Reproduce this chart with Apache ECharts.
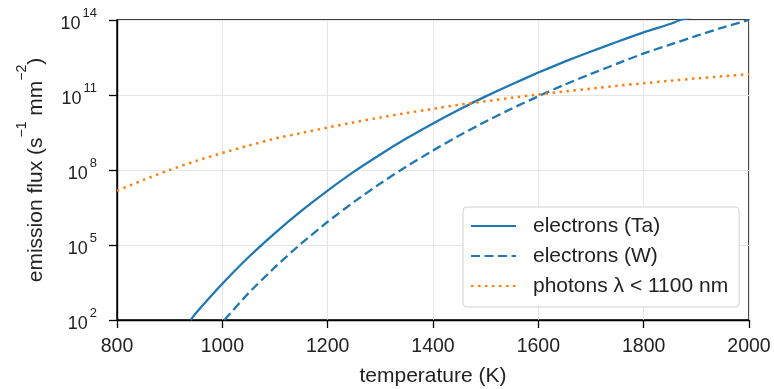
<!DOCTYPE html>
<html>
<head>
<meta charset="utf-8">
<script src="https://cdn.jsdelivr.net/npm/echarts@6/dist/echarts.min.js"></script>
<style>
html,body{margin:0;padding:0;background:#fff;}
#chart{width:774px;height:389px;}
</style>
</head>
<body>
<div id="chart"></div>
<script>
// temperature (K) and emission flux (s^-1 mm^-2)
const tempsTa = [940, 950, 1000, 1050, 1100, 1150, 1200, 1250, 1300, 1350, 1400, 1450, 1500, 1550, 1600, 1650, 1700, 1750, 1800, 1850, 1870, 1900];
const fluxTa  = [1.0e2, 1.9e2, 2.8e3, 3.3e4, 3.0e5, 2.3e6, 1.5e7, 8.6e7, 4.2e8, 1.85e9, 7.3e9, 2.65e10, 8.8e10, 2.7e11, 7.9e11, 2.15e12, 5.5e12, 1.35e13, 3.2e13, 6.9e13, 1.0e14, 1.45e14];

const tempsW = [1004, 1050, 1100, 1150, 1200, 1250, 1300, 1350, 1400, 1450, 1500, 1550, 1600, 1650, 1700, 1750, 1800, 1850, 1900, 1950, 2000];
const fluxW  = [1.0e2, 1.2e3, 1.3e4, 1.15e5, 8.5e5, 5.3e6, 2.9e7, 1.4e8, 6.0e8, 2.4e9, 8.7e9, 2.9e10, 8.9e10, 2.6e11, 7.0e11, 1.8e12, 4.6e12, 1.03e13, 2.3e13, 5.0e13, 1.0e14];

const tempsPh = [800, 850, 900, 950, 1000, 1050, 1100, 1150, 1200, 1250, 1300, 1350, 1400, 1450, 1500, 1550, 1600, 1650, 1700, 1750, 1800, 1850, 1900, 1950, 2000];
const fluxPh  = [1.48e7, 4.0e7, 1.0e8, 2.3e8, 4.8e8, 9.5e8, 1.8e9, 3.0e9, 5.0e9, 8.1e9, 1.26e10, 1.9e10, 2.8e10, 4.1e10, 5.6e10, 7.8e10, 1.05e11, 1.38e11, 1.8e11, 2.35e11, 2.95e11, 3.7e11, 4.6e11, 5.6e11, 6.8e11];

const xTicks = [800, 1000, 1200, 1400, 1600, 1800, 2000];
const yTicks = [1e2, 1e5, 1e8, 1e11, 1e14];
const seriesNames = ['electrons (Ta)', 'electrons (W)', 'photons \u03bb < 1100 nm'];

const pairs = (xs, ys) => xs.map((x, i) => [x, ys[i]]);
const FONT = 'Liberation Sans';
const TXT = '#222';
const BLUE = '#1f77b4';
const ORANGE = '#ff7f0e';

const chart = echarts.init(document.getElementById('chart'), null, {renderer: 'canvas'});
chart.setOption({
  animation: false,
  backgroundColor: '#ffffff',
  textStyle: {fontFamily: FONT},
  grid: {left: 117, right: 25, top: 20, bottom: 69, containLabel: false, outerBoundsMode: 'none',
         show: true, borderColor: '#000', borderWidth: 1.4, backgroundColor: 'transparent'},
  legend: {
    orient: 'vertical',
    left: 463, top: 207,
    padding: [8, 11, 10, 7],
    backgroundColor: '#fff',
    borderColor: '#d0d0d0', borderWidth: 1, borderRadius: 4,
    itemWidth: 45, itemHeight: 14, itemGap: 8,
    itemStyle: {opacity: 0},
    textStyle: {fontFamily: FONT, fontSize: 21, color: TXT, padding: [0, 0, 0, 12], lineHeight: 22},
    data: seriesNames
  },
  xAxis: {
    type: 'value', min: 800, max: 2000, interval: 200,
    axisTick: {show: true, length: 8, lineStyle: {color: '#000', width: 1.3}, customValues: xTicks},
    name: 'temperature (K)', nameLocation: 'middle', nameGap: 46, nameMoveOverlap: false,
    nameTextStyle: {fontFamily: FONT, fontSize: 21, color: TXT},
    axisLine: {show: true, lineStyle: {color: '#000', width: 1.4}},
    axisLabel: {fontFamily: FONT, fontSize: 19.5, color: TXT, margin: 17, customValues: xTicks, formatter: v => String(v)},
    splitLine: {show: true, lineStyle: {color: '#e6e6e6', width: 1}}
  },
  yAxis: {
    type: 'log', logBase: 10, min: 1e2, max: 1e14,
    axisTick: {show: true, length: 8, lineStyle: {color: '#000', width: 1.3}, customValues: yTicks},
    axisLine: {show: true, lineStyle: {color: '#000', width: 1.4}},
    axisLabel: {
      customValues: yTicks,
      margin: 20,
      formatter: v => '{b|10}{s|' + Math.round(Math.log10(v)) + '}',
      rich: {
        b: {fontFamily: FONT, fontSize: 18, color: TXT, lineHeight: 27, verticalAlign: 'bottom'},
        s: {fontFamily: FONT, fontSize: 13, color: TXT, lineHeight: 13, verticalAlign: 'top', padding: [0, 0, 0, 2]}
      }
    },
    splitLine: {show: true, lineStyle: {color: '#e6e6e6', width: 1}},
    name: '{m|emission flux (s}{s|\u22121}{m| mm}{s|\u22122}{m|)}',
    nameLocation: 'middle', nameGap: 70, nameRotate: 90, nameMoveOverlap: false,
    nameTextStyle: {
      fontFamily: FONT, fontSize: 21, color: TXT,
      rich: {
        m: {fontFamily: FONT, fontSize: 21, color: TXT, lineHeight: 32, verticalAlign: 'bottom'},
        s: {fontFamily: FONT, fontSize: 14, color: TXT, lineHeight: 14, verticalAlign: 'top'}
      }
    }
  },
  series: [
    {name: seriesNames[0], type: 'line', data: pairs(tempsTa, fluxTa), symbol: 'none', smooth: 0.2,
     lineStyle: {color: BLUE, width: 2.3, type: 'solid'}, itemStyle: {color: BLUE}, clip: true},
    {name: seriesNames[1], type: 'line', data: pairs(tempsW, fluxW), symbol: 'none', smooth: 0.2,
     lineStyle: {color: BLUE, width: 2.3, type: [9, 4.5]}, itemStyle: {color: BLUE}, clip: true},
    {name: seriesNames[2], type: 'line', data: pairs(tempsPh, fluxPh), symbol: 'none', smooth: 0.2,
     lineStyle: {color: ORANGE, width: 2.5, type: [2.5, 4.5]}, itemStyle: {color: ORANGE}, clip: true}
  ]
});
</script>
</body>
</html>
